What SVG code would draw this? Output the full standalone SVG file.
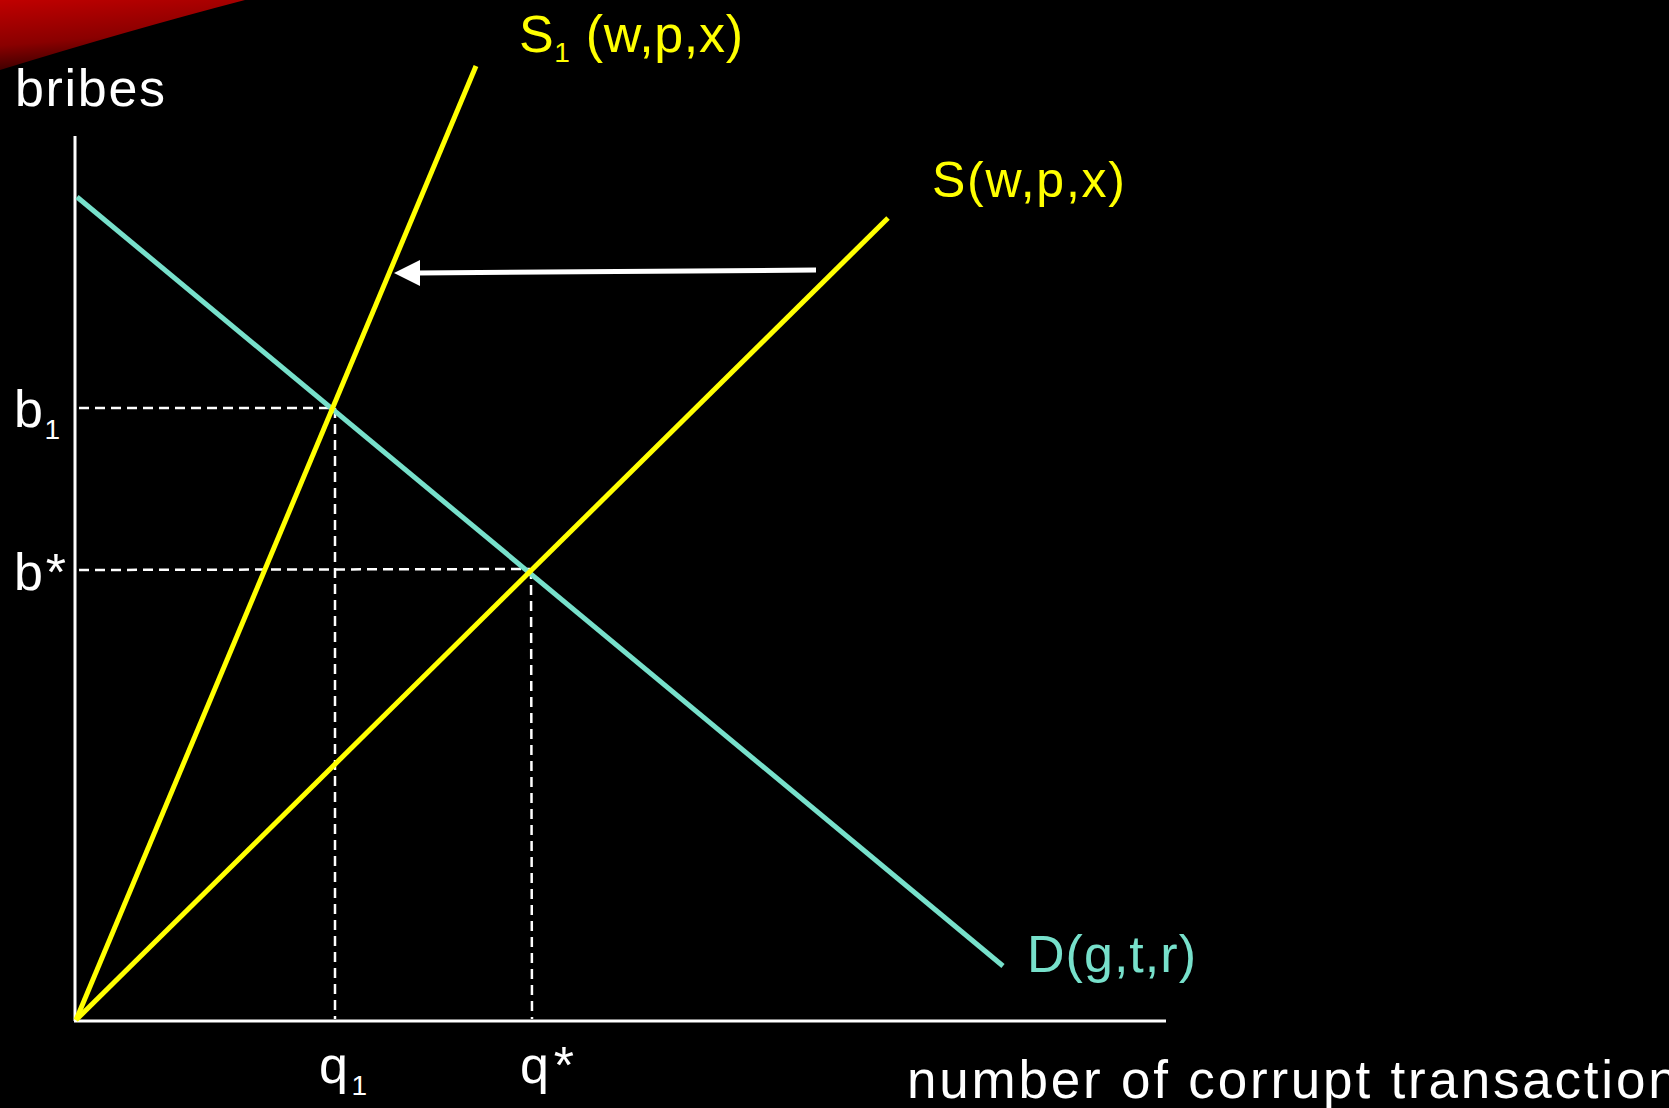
<svg xmlns="http://www.w3.org/2000/svg" width="1669" height="1108" viewBox="0 0 1669 1108">
<style>
.lbl{font-family:"Liberation Sans","DejaVu Sans",sans-serif;}
.w{fill:#ffffff;}
.y{fill:#ffff00;}
.c{fill:#77e0cb;}
.axis{stroke:#ffffff;stroke-width:3;fill:none;}
.dash{stroke:#ffffff;stroke-width:2.5;stroke-dasharray:10 6;fill:none;}
.sup{stroke:#ffff00;stroke-width:5;fill:none;}
.dem{stroke:#77e0cb;stroke-width:5;fill:none;}
</style>
<defs>
<linearGradient id="red" x1="0" y1="0" x2="0.3" y2="1">
<stop offset="0" stop-color="#c00000"/>
<stop offset="0.6" stop-color="#8a0000"/>
<stop offset="1" stop-color="#300000"/>
</linearGradient>
</defs>
<rect x="0" y="0" width="1669" height="1108" fill="#000000"/>
<path d="M0,0 L245,0 Q130,30 0,70 Z" fill="url(#red)"/>

<g id="connectors">
<line id="y-axis" class="axis" x1="75" y1="136" x2="75" y2="1021"/>
<line id="x-axis" class="axis" x1="74" y1="1021" x2="1166" y2="1021"/>
<line class="dash" x1="79" y1="408" x2="335" y2="408"/>
<line class="dash" x1="335" y1="408" x2="335" y2="1019"/>
<line class="dash" x1="79" y1="570" x2="530" y2="569"/>
<line class="dash" x1="531" y1="569" x2="532" y2="1019"/>
<line id="D" class="dem" x1="77" y1="197" x2="1003" y2="966"/>
<line id="S" class="sup" x1="76" y1="1020" x2="888" y2="218"/>
<line id="S1" class="sup" x1="76" y1="1020" x2="476" y2="66"/>
<g id="shift-arrow">
<line x1="816" y1="270" x2="418" y2="273" stroke="#ffffff" stroke-width="5"/>
<path d="M394,273 L420,260 L420,286 Z" fill="#ffffff"/>
</g>
</g>

<g id="label-bribes"><text class="lbl w" x="15" y="106" font-size="52" textLength="150">bribes</text></g>
<g id="label-S1"><text class="lbl y" x="519" y="52" font-size="52" textLength="224">S<tspan font-size="28" dy="10">1</tspan><tspan dy="-10"> (w,p,x)</tspan></text></g>
<g id="label-S"><text class="lbl y" x="932" y="197" font-size="50" textLength="193">S(w,p,x)</text></g>
<g id="label-D"><text class="lbl c" x="1027" y="972" font-size="52" textLength="169">D(g,t,r)</text></g>
<g id="label-b1"><text class="lbl w" x="14" y="427" font-size="52" textLength="46">b<tspan font-size="28" dy="12">1</tspan></text></g>
<g id="label-bstar"><text class="lbl w" x="14" y="590" font-size="52" textLength="52">b*</text></g>
<g id="label-q1"><text class="lbl w" x="319" y="1083" font-size="52" textLength="48">q<tspan font-size="28" dy="12">1</tspan></text></g>
<g id="label-qstar"><text class="lbl w" x="520" y="1083" font-size="52" textLength="54">q*</text></g>
<g id="label-x"><text class="lbl w" x="907" y="1098" font-size="53" textLength="800">number of corrupt transactions</text></g>
</svg>
